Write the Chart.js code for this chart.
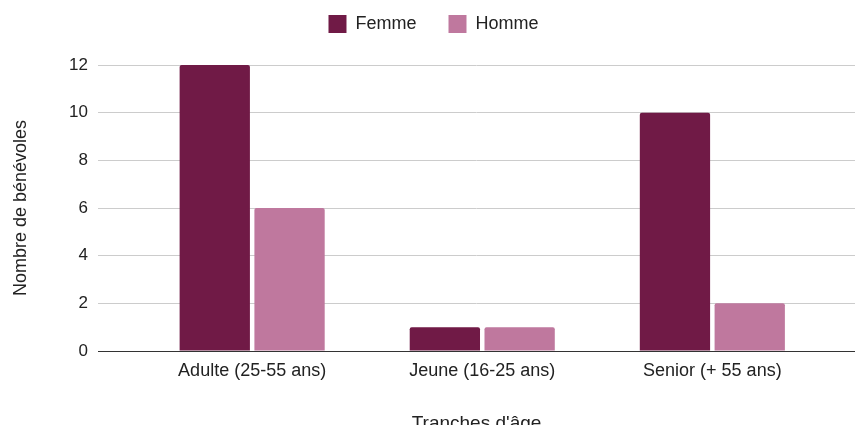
<!DOCTYPE html>
<html lang="fr">
<head>
  <meta charset="UTF-8">
  <title>Bénévoles par tranche d'âge</title>
  <script src="https://cdn.jsdelivr.net/npm/chart.js"></script>
  <style>
    body { margin: 0; background: #fff; }
    .graph { width: 855px; height: 425px; }
  </style>
</head>
<body>
  <div class="graph">
    <canvas id="barChart" width="855" height="425"></canvas>
  </div>

<script>
  const tranches = ["Adulte (25-55 ans)", "Jeune (16-25 ans)", "Senior (+ 55 ans)"];
  const femmes = [12, 1, 10];
  const hommes = [6, 1, 2];
  const yTicks = [0, 2, 4, 6, 8, 10, 12];

  const police = "'Liberation Sans', Arial, sans-serif";

  // hauteur fixe de la légende pour caler le haut du graphique
  const hauteurLegende = {
    id: "hauteurLegende",
    beforeUpdate: function (chart) {
      const leg = chart.legend;
      if (leg && !leg._patched) {
        const fit = leg.fit;
        leg.fit = function () {
          fit.call(this);
          this.height = 82;
        };
        leg._patched = true;
      }
    },
    afterLayout: function (chart) {
      // légende un peu décalée vers la droite
      chart.legend.left += 6;
      chart.legend.right += 6;
    }
  };

  const config = {
    type: "bar",
    data: {
      datasets: [
        {
          label: "Femme",
          data: femmes.map(function (v, i) { return { x: i, y: v }; }),
          backgroundColor: "#701a46",
          borderRadius: 2
        },
        {
          label: "Homme",
          data: hommes.map(function (v, i) { return { x: i, y: v }; }),
          backgroundColor: "#bf789e",
          borderRadius: 2
        }
      ]
    },
    options: {
      responsive: false,
      animation: false,
      maintainAspectRatio: false,
      categoryPercentage: 0.65,
      barPercentage: 0.94,
      layout: { padding: { top: -17, right: 0, left: 0, bottom: 0 } },
      plugins: {
        tooltip: { enabled: false },
        legend: {
          position: "top",
          labels: {
            boxWidth: 18,
            boxHeight: 18,
            padding: 32,
            color: "#222",
            font: { family: police, size: 18 }
          }
        }
      },
      scales: {
        x: {
          type: "linear",
          offset: false,
          min: -0.67,
          max: 2.62,
          grid: { display: false, drawTicks: false },
          border: { display: true, color: "#333", width: 1 },
          afterBuildTicks: function (scale) {
            scale.ticks = tranches.map(function (t, i) { return { value: i }; });
          },
          afterFit: function (scale) { scale.height = 74; },
          ticks: {
            padding: 9,
            color: "#222",
            maxRotation: 0,
            autoSkip: false,
            font: { family: police, size: 18 },
            callback: function (v) { return tranches[v]; }
          },
          title: {
            display: true,
            text: "Tranches d'âge",
            color: "#222",
            padding: { top: 31, bottom: -10 },
            font: { family: police, size: 19 }
          }
        },
        y: {
          min: 0,
          max: 12,
          afterBuildTicks: function (scale) {
            scale.ticks = yTicks.map(function (v) { return { value: v }; });
          },
          afterFit: function (scale) { scale.width = 98; },
          grid: { color: "#cccccc", drawTicks: false },
          border: { display: false },
          ticks: {
            padding: 10,
            color: "#222",
            font: { family: police, size: 17 }
          },
          title: {
            display: true,
            text: "Nombre de bénévoles",
            color: "#222",
            padding: { top: 10 },
            font: { family: police, size: 18 }
          }
        }
      }
    },
    plugins: [hauteurLegende]
  };

  let myChart = new Chart(document.getElementById("barChart"), config);
</script>
</body>
</html>
